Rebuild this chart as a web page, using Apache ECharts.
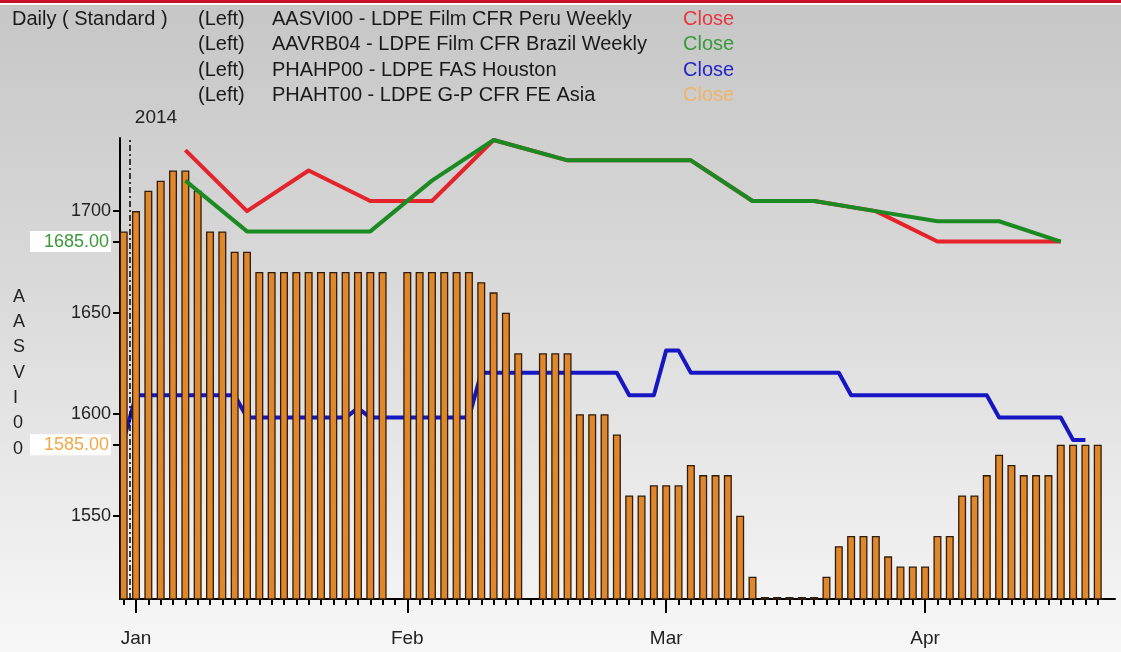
<!DOCTYPE html>
<html><head><meta charset="utf-8">
<script src="https://cdn.jsdelivr.net/npm/echarts@6/dist/echarts.min.js"></script>
<style>html,body{margin:0;padding:0;overflow:hidden;}#c{width:1121px;height:652px;}</style>
</head><body><div id="c"></div>
<script>
// ---- data (one slot per trading day, Dec 31 2013 .. Apr 2014) ----
const asiaClose = [
  1690,1700,1710,1715,1720,1720,1710,1690,1690,1680,1680,
  1670,1670,1670,1670,1670,1670,1670,1670,1670,1670,1670,
  null,
  1670,1670,1670,1670,1670,1670,1665,1660,1650,1630,
  null,
  1630,1630,1630,1600,1600,1600,1590,1560,1560,1565,1565,1565,1575,1570,1570,1570,1550,1520,
  1510,1510,1510,1510,1510,
  1520,1535,1540,1540,1540,1530,1525,1525,1525,1540,1540,1560,1560,1570,1580,1575,1570,1570,1570,1585,1585,1585,1585
];
const houstonClose = [
  1587.33,
  1609.37,1609.37,1609.37,1609.37,1609.37,1609.37,1609.37,1609.37,1609.37,
  1598.35,1598.35,1598.35,1598.35,1598.35,1598.35,1598.35,1598.35,1598.35,
  1603.0,
  1598.35,1598.35,1598.35,1598.35,1598.35,1598.35,1598.35,1598.35,1598.35,
  1620.40,1620.40,1620.40,1620.40,1620.40,1620.40,1620.40,1620.40,1620.40,1620.40,1620.40,1620.40,
  1609.37,1609.37,1609.37,
  1631.42,1631.42,
  1620.40,1620.40,1620.40,1620.40,1620.40,1620.40,1620.40,1620.40,1620.40,1620.40,1620.40,1620.40,1620.40,
  1609.37,1609.37,1609.37,1609.37,1609.37,1609.37,1609.37,1609.37,1609.37,1609.37,1609.37,1609.37,
  1598.35,1598.35,1598.35,1598.35,1598.35,1598.35,
  1587.33,1587.33,
  null
];
const weeklySlots = [5,10,15,20,25,30,36,41,46,51,56,61,66,71,76];
const peruClose   = [1730,1700,1720,1705,1705,1735,1725,1725,1725,1705,1705,1700,1685,1685,1685];
const brazilClose = [1715,1690,1690,1690,1715,1735,1725,1725,1725,1705,1705,1700,1695,1695,1685];
const monthSlots  = [1,23,44,65];
const monthLabels = ['Jan','Feb','Mar','Apr'];
const yTickValues = [1550,1600,1650,1700];
const yearLabel = '2014';
const yearBoundary = 0.5;
const legendTitle = 'Daily ( Standard )';
const legendNames = ['AASVI00 - LDPE Film CFR Peru Weekly','AAVRB04 - LDPE Film CFR Brazil Weekly','PHAHP00 - LDPE FAS Houston','PHAHT00 - LDPE G-P CFR FE Asia'];
const axisName = 'AASVI00';

// ---- styling ----
const FONT = 'Liberation Sans, Arial, sans-serif';
const C_RED = '#e4232b', C_GREEN = '#1b8a22', C_BLUE = '#1616c2', C_BAR = '#e0862b', C_BAR_EDGE = '#2e1c0c';
const closeColors = ['#e8383c','#3a9a3a','#2424c8','#f0b468'];

const slots = asiaClose.map((_, i) => i);
const lastBrazil = brazilClose[brazilClose.length - 1];
const lastAsia = asiaClose[asiaClose.length - 1];
const yCustom = yTickValues.concat([lastBrazil, lastAsia]).sort((a, b) => a - b);

const chart = echarts.init(document.getElementById('c'), null, {renderer: 'canvas'});
const Y_MIN = 1509, Y_MAX = 1736, X_MIN = -0.3, X_MAX = 80.4;

const legendGraphics = [];
legendGraphics.push({type:'text', left: 12, top: 9, z: 10, style:{text: legendTitle, font: '20px ' + FONT, fill: '#1a1a1a'}});
legendNames.forEach((n, i) => {
  const y = 9 + i * 25.5;
  legendGraphics.push({type:'text', left: 198, top: y, z: 10, style:{text: '(Left)', font: '20px ' + FONT, fill: '#1a1a1a'}});
  legendGraphics.push({type:'text', left: 272, top: y, z: 10, style:{text: n, font: '20px ' + FONT, fill: '#1a1a1a'}});
  legendGraphics.push({type:'text', left: 683, top: y, z: 10, style:{text: 'Close', font: '20px ' + FONT, fill: closeColors[i]}});
});

const option = {
  animation: false,
  backgroundColor: 'transparent',
  textStyle: {fontFamily: FONT},
  grid: {left: 120, right: 6, top: 138, bottom: 53, containLabel: false},
  xAxis: [{
    type: 'value', min: X_MIN, max: X_MAX, position: 'bottom',
    axisLine: {show: true, onZero: false, lineStyle: {color: '#000', width: 2}},
    axisTick: {show: true, customValues: slots, length: 6, lineStyle: {color: '#000', width: 2}},
    axisLabel: {show: false},
    splitLine: {show: false}
  }, {
    type: 'value', min: X_MIN, max: X_MAX, position: 'bottom',
    axisLine: {show: false, onZero: false},
    axisTick: {show: true, customValues: monthSlots, length: 14, lineStyle: {color: '#000', width: 2}},
    axisLabel: {show: true, customValues: monthSlots, margin: 30, color: '#222', fontSize: 19, fontFamily: FONT,
      formatter: v => monthLabels[monthSlots.indexOf(Math.round(v))] || ''},
    splitLine: {show: false}
  }],
  yAxis: {
    type: 'value', min: Y_MIN, max: Y_MAX,
    axisLine: {show: true, onZero: false, lineStyle: {color: '#000', width: 2}},
    axisTick: {show: true, customValues: yCustom, length: 7, lineStyle: {color: '#000', width: 2}},
    axisLabel: {show: true, customValues: yCustom, margin: 9, color: '#222', fontSize: 18, fontFamily: FONT,
      formatter: v => v === lastBrazil ? '{g|' + v.toFixed(2) + '}' : (v === lastAsia ? '{o|' + v.toFixed(2) + '}' : String(v)),
      rich: {
        g: {color: '#3a9a3a', fontSize: 18, fontFamily: FONT, backgroundColor: '#ffffff', padding: [2, 2, 1, 14]},
        o: {color: '#f0a848', fontSize: 18, fontFamily: FONT, backgroundColor: '#ffffff', padding: [2, 2, 1, 14]}
      }},
    splitLine: {show: false}
  },
  series: [{
    name: legendNames[2], type: 'line', z: 1,
    data: houstonClose.map((v, i) => [i, v]),
    symbol: 'none', connectNulls: false,
    lineStyle: {color: C_BLUE, width: 4, join: 'round'}
  }, {
    name: legendNames[3], type: 'bar', z: 2,
    data: asiaClose.map((v, i) => [i, v]),
    barWidth: 8,
    itemStyle: {color: C_BAR, borderColor: C_BAR_EDGE, borderWidth: 1.3},
    markLine: {
      silent: true, symbol: 'none', animation: false,
      label: {show: false},
      lineStyle: {color: '#000', width: 1.5, type: [6, 3, 2, 3]},
      data: [{xAxis: yearBoundary}]
    }
  }, {
    name: legendNames[0], type: 'line', z: 3,
    data: weeklySlots.map((s, i) => [s, peruClose[i]]),
    symbol: 'none',
    lineStyle: {color: C_RED, width: 4, join: 'round'}
  }, {
    name: legendNames[1], type: 'line', z: 4,
    data: weeklySlots.map((s, i) => [s, brazilClose[i]]),
    symbol: 'none',
    lineStyle: {color: C_GREEN, width: 4, join: 'round'}
  }]
};
chart.setOption(option);

const yearPx = chart.convertToPixel({xAxisIndex: 0, yAxisIndex: 0}, [yearBoundary, Y_MAX]);
const nameTop = chart.convertToPixel({xAxisIndex: 0, yAxisIndex: 0}, [X_MIN, 1664])[1];

chart.setOption({
  graphic: [
    {type: 'rect', z: -100, silent: true, shape: {x: 0, y: 0, width: 1121, height: 652},
      style: {fill: {type: 'linear', x: 0, y: 0, x2: 0, y2: 1, colorStops: [
        {offset: 0, color: '#c6c6c6'}, {offset: 0.45, color: '#dadada'}, {offset: 1, color: '#f7f7f7'}]}}},
    {type: 'rect', z: -99, silent: true, shape: {x: 0, y: 0, width: 1121, height: 3}, style: {fill: '#c31229'}},
    {type: 'rect', z: -99, silent: true, shape: {x: 0, y: 3, width: 1121, height: 2}, style: {fill: '#ffffff'}},
    {type: 'text', z: 10, left: yearPx[0] + 5, top: yearPx[1] - 30,
      style: {text: yearLabel, font: '19px ' + FONT, fill: '#222'}},
    {type: 'text', z: 10, left: 13, top: nameTop,
      style: {text: axisName.split('').join('\n'), font: '18px ' + FONT, fill: '#222', lineHeight: 25.3, align: 'center', width: 16}}
  ].concat(legendGraphics)
});
</script>
</body></html>
